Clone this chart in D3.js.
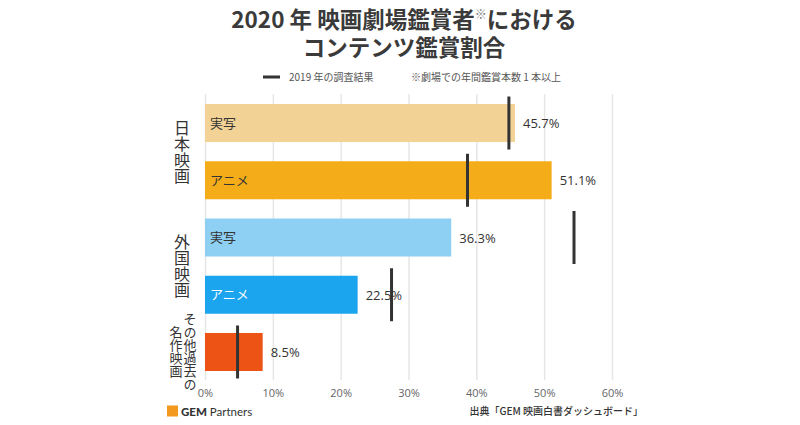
<!DOCTYPE html>
<html><head><meta charset="utf-8">
<script src="https://cdn.jsdelivr.net/npm/d3@7"></script>
<style>
html,body{margin:0;padding:0;background:#fff;}
svg{display:block;font-family:"Noto Sans CJK JP","Noto Sans",sans-serif;}
</style></head>
<body>
<svg id="c" width="800" height="425"></svg>
<script>
const categories = ["日本映画 実写","日本映画 アニメ","外国映画 実写","外国映画 アニメ","その他過去の名作映画"];
const barLabels = ["実写","アニメ","実写","アニメ",""];
const values2020 = [45.7,51.1,36.3,22.5,8.5];
const values2019 = [44.8,38.7,54.4,27.5,4.8];
const barColors = ["#F3D395","#F4AC19","#8ED0F3","#1BA5EF","#EC5315"];
const labelColors = ["#333","#333","#333","#fff","#fff"];
const tickValues = [0,10,20,30,40,50,60];
const groups = [
  {cols:["日本映画"], from:0, to:1, size:16},
  {cols:["外国映画"], from:2, to:3, size:16},
  {cols:["その他過去の","名作映画"], from:4, to:4, size:13}
];
const titleLine1 = ["2020 年 映画劇場鑑賞者","※","における"];
const titleLine2 = "コンテンツ鑑賞割合";

const svg = d3.select("#c");
const x = d3.scaleLinear().domain([0,60]).range([205,612]);
const y = d3.scaleBand().domain(d3.range(categories.length)).range([94.4,380.6]).paddingInner(0.336).paddingOuter(0.168);

// title
const t1 = svg.append("text").attr("x",404).attr("y",28).attr("text-anchor","middle")
  .attr("font-size",22.5).attr("font-weight","bold").attr("fill","#3a3a3a");
t1.append("tspan").text(titleLine1[0]);
t1.append("tspan").attr("font-size",12).attr("font-weight","normal").attr("fill","#777").attr("dy",-9).text(titleLine1[1]);
t1.append("tspan").attr("dy",9).text(titleLine1[2]);
svg.append("text").attr("x",404).attr("y",56).attr("text-anchor","middle")
  .attr("font-size",22.5).attr("font-weight","bold").attr("fill","#3a3a3a").text(titleLine2);

// legend
svg.append("line").attr("x1",263).attr("x2",280).attr("y1",77).attr("y2",77).attr("stroke","#333").attr("stroke-width",3);
svg.append("text").attr("x",289).attr("y",80.5).attr("font-size",10).attr("fill","#555").text("2019 年の調査結果");
svg.append("text").attr("x",411).attr("y",80.5).attr("font-size",10).attr("fill","#555").text("※劇場での年間鑑賞本数 1 本以上");

// grid + x axis
const xAxis = d3.axisBottom(x).tickValues(tickValues).tickFormat(d=>d+"%").tickSize(-(380-94)).tickPadding(9);
const ax = svg.append("g").attr("transform","translate(0,380)").call(xAxis);
ax.select(".domain").remove();
ax.selectAll(".tick line").attr("stroke","#e6e6e6").attr("stroke-width",1.5);
ax.selectAll(".tick text").attr("fill","#666").attr("font-size",11).attr("font-family","'Open Sans','Noto Sans',sans-serif");

// bars
svg.append("g").selectAll("rect").data(values2020).join("rect")
  .attr("x",x(0)).attr("y",(d,i)=>y(i)).attr("width",d=>x(d)-x(0)).attr("height",y.bandwidth())
  .attr("fill",(d,i)=>barColors[i]);

// in-bar labels
svg.append("g").selectAll("text").data(barLabels).join("text")
  .attr("x",x(0)+5).attr("y",(d,i)=>y(i)+y.bandwidth()/2+4.5)
  .attr("font-size",13).attr("fill",(d,i)=>labelColors[i]).text(d=>d);

// value labels
svg.append("g").selectAll("text").data(values2020).join("text")
  .attr("x",d=>x(d)+8).attr("y",(d,i)=>y(i)+y.bandwidth()/2+5)
  .attr("font-size",13).attr("fill","#333").attr("font-family","'Open Sans','Noto Sans',sans-serif")
  .text(d=>d.toFixed(1)+"%");

// 2019 markers
svg.append("g").selectAll("line").data(values2019).join("line")
  .attr("x1",d=>x(d)).attr("x2",d=>x(d))
  .attr("y1",(d,i)=>y(i)+y.bandwidth()/2-26.5).attr("y2",(d,i)=>y(i)+y.bandwidth()/2+26.5)
  .attr("stroke","#333").attr("stroke-width",3);

// group labels (vertical writing)
groups.forEach(g=>{
  const cy = (y(g.from)+y(g.to)+y.bandwidth())/2;
  const n = g.cols.length;
  g.cols.forEach((t,j)=>{
    const cx = n===1 ? 182 : (j===0 ? 190 : 176);
    svg.append("text").attr("x",cx).attr("y",cy)
      .attr("text-anchor","middle")
      .style("writing-mode","vertical-rl").style("text-orientation","upright")
      .attr("font-size",g.size).attr("fill","#333").text(t);
  });
});

// footer
svg.append("rect").attr("x",167).attr("y",405.5).attr("width",11).attr("height",11).attr("fill","#F39A1E");
const ft = svg.append("text").attr("x",181).attr("y",416).attr("font-size",11.5).attr("fill","#333")
  .attr("font-family","Lato,'Noto Sans',sans-serif");
ft.append("tspan").attr("font-weight","900").text("GEM");
ft.append("tspan").text(" Partners");
svg.append("text").attr("x",643).attr("y",415).attr("text-anchor","end").attr("font-size",10).attr("font-weight",500).attr("fill","#333")
  .text("出典「GEM 映画白書ダッシュボード」");
</script>
</body></html>
